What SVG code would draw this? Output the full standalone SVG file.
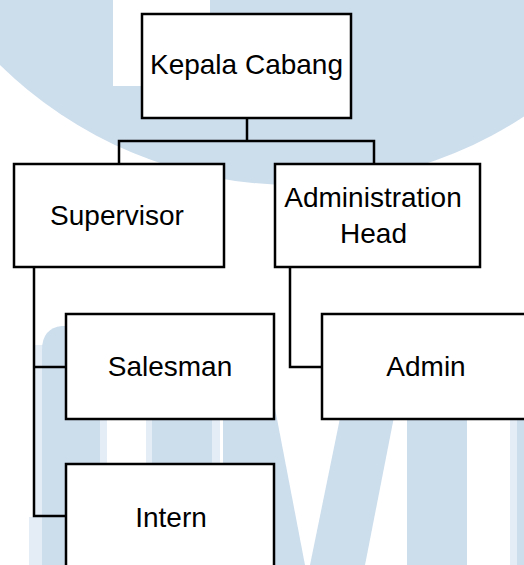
<svg xmlns="http://www.w3.org/2000/svg" width="524" height="565" viewBox="0 0 524 565">
<defs>
<style>
.wm{fill:#CCDDEC}
.wml{fill:#E4EDF6}
.box{fill:#FFFFFF;stroke:#000000;stroke-width:2.5}
.con{fill:none;stroke:#000000;stroke-width:2.5}
.lbl{font-family:"Liberation Sans",Arial,sans-serif;font-size:28px;fill:#000000;text-anchor:middle}
</style>
</defs>
<rect x="0" y="0" width="524" height="565" fill="#FFFFFF"/>
<g id="watermark">
<circle class="wm" cx="294" cy="-235" r="420"/>
<rect x="113" y="0" width="97" height="86" fill="#FFFFFF"/>
<rect class="wml" x="35" y="345" width="8" height="220"/>
<rect class="wml" x="29" y="517" width="7" height="48"/>
<path class="wm" d="M42,350 Q42,328 62,326 L100,326 L100,565 L42,565 Z"/>
<rect class="wml" x="100" y="330" width="7" height="235"/>
<rect class="wml" x="146" y="330" width="6" height="235"/>
<rect class="wm" x="152" y="330" width="60" height="235"/>
<rect class="wml" x="212" y="330" width="8" height="235"/>
<polygon class="wm" points="223,330 260,330 305,565 223,565"/>
<polygon class="wm" points="358,330 411,330 365,565 310,565"/>
<rect class="wm" x="407" y="330" width="60" height="235"/>
<rect class="wml" x="510" y="330" width="7" height="235"/>
<rect class="wm" x="517" y="330" width="10" height="235"/>
</g>
<g id="connectors">
<polyline class="con" points="247,118 247,141"/>
<polyline class="con" points="119,164 119,141 374,141 374,164"/>
<polyline class="con" points="34,267 34,516 66,516"/>
<polyline class="con" points="34,367 66,367"/>
<polyline class="con" points="290,267 290,367 322,367"/>
</g>
<g id="kepala-cabang">
<rect class="box" x="142" y="14" width="209" height="104"/>
<text class="lbl" x="246.5" y="74">Kepala Cabang</text>
</g>
<g id="supervisor">
<rect class="box" x="14" y="164" width="210" height="103"/>
<text class="lbl" x="117" y="225">Supervisor</text>
</g>
<g id="administration-head">
<rect class="box" x="275" y="164" width="205" height="103"/>
<text class="lbl" x="373" y="207">Administration</text>
<text class="lbl" x="373.5" y="243">Head</text>
</g>
<g id="salesman">
<rect class="box" x="66" y="314" width="208" height="105"/>
<text class="lbl" x="170" y="376">Salesman</text>
</g>
<g id="admin">
<rect class="box" x="322" y="314" width="210" height="105"/>
<text class="lbl" x="426" y="376">Admin</text>
</g>
<g id="intern">
<rect class="box" x="66" y="464" width="208" height="110"/>
<text class="lbl" x="171" y="527">Intern</text>
</g>
</svg>
